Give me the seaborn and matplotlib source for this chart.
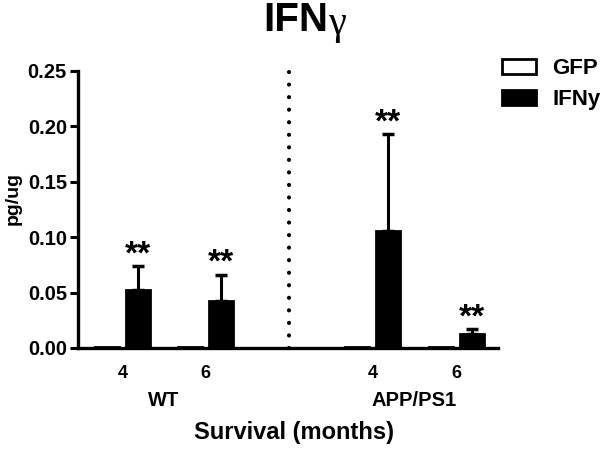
import numpy as np
import pandas as pd
import seaborn as sns
import matplotlib.pyplot as plt

# data
positions = [0, 1, 3, 4]          # 4 and 6 months, WT then APP/PS1 (gap for the divider)
months = ["4", "6", "4", "6"]
genotypes = ["WT", "APP/PS1"]
gfp_mean = [0.001, 0.001, 0.001, 0.0005]
ifn_mean = [0.052, 0.042, 0.106, 0.013]
ifn_err = [0.022, 0.024, 0.087, 0.004]
stars = ["**", "**", "**", "**"]

df = pd.DataFrame({
    "pos": positions * 2,
    "value": gfp_mean + ifn_mean,
    "treatment": ["GFP"] * 4 + ["IFNy"] * 4,
})

sns.set_style("ticks")
plt.rcParams["font.family"] = ["Liberation Sans", "DejaVu Sans"]
plt.rcParams["font.weight"] = "bold"
plt.rcParams["axes.labelweight"] = "bold"
for k in ["text.color", "axes.labelcolor", "xtick.color", "ytick.color", "axes.edgecolor"]:
    plt.rcParams[k] = "black"

fig = plt.figure(figsize=(6, 4.51), dpi=100)
ax = fig.add_subplot(111)
fig.subplots_adjust(left=0.13, right=0.83, bottom=0.2284, top=0.8426)

sns.barplot(data=df, x="pos", y="value", hue="treatment", native_scale=True,
            palette=["white", "black"], edgecolor="black", linewidth=2,
            width=0.74, gap=0.22, errorbar=None, ax=ax)

# upward-only error bars on the IFNy bars
bars = ax.containers[1]
xs = sorted(b.get_x() + b.get_width() / 2 for b in bars)
ax.errorbar(xs, ifn_mean, yerr=[np.zeros(4), ifn_err], fmt="none",
            ecolor="black", elinewidth=2.2, capsize=4, capthick=2.5)
for x, m, e, s in zip(xs, ifn_mean, ifn_err, stars):
    ax.annotate(s, (x, m + e), xytext=(0, -3), textcoords="offset points",
                ha="center", va="bottom", fontsize=24)

# divider between genotypes
ax.plot([2, 2], [0, 0.25], color="black", lw=3,
        linestyle=(0, (0.01, 3)), dash_capstyle="round", clip_on=False)

ax.set_xlim(-0.53, 4.5)
ax.set_ylim(0, 0.25)
ax.set_yticks(np.arange(0, 0.26, 0.05))
ax.set_yticklabels([f"{v:.2f}" for v in np.arange(0, 0.26, 0.05)], fontsize=14.5)
ax.set_xticks(positions)
ax.set_xticklabels(months, fontsize=13)
ax.tick_params(axis="x", length=0, pad=12)
ax.tick_params(axis="y", length=6, width=2.2, pad=2)
sns.despine(ax=ax)
for side in ["left", "bottom"]:
    ax.spines[side].set_linewidth(2.4)

for i, g in enumerate(genotypes):
    cx = np.mean(positions[2 * i:2 * i + 2])
    ax.annotate(g, (cx, 0), xycoords=("data", "axes fraction"),
                xytext=(0, -38), textcoords="offset points",
                ha="center", va="center", fontsize=14.5)

ax.set_ylabel("pg/ug", fontsize=14)
ax.yaxis.set_label_coords(-0.133, 0.54)
ax.set_xlabel("")
fig.text(0.49, 0.04, "Survival (months)", ha="center", va="center", fontsize=17)
fig.text(0.547, 0.955, "IFN", ha="right", va="center", fontsize=29)
fig.text(0.549, 0.945, "γ", ha="left", va="center", fontsize=29,
         family="Liberation Serif", fontweight="normal")

ax.legend(loc="upper left", bbox_to_anchor=(0.837, 0.871),
          bbox_transform=fig.transFigure, frameon=False, borderpad=0,
          borderaxespad=0, fontsize=16, handlelength=1.5, handleheight=0.7,
          labelspacing=0.45, handletextpad=0.75)

fig.savefig("out.png", dpi=100)
